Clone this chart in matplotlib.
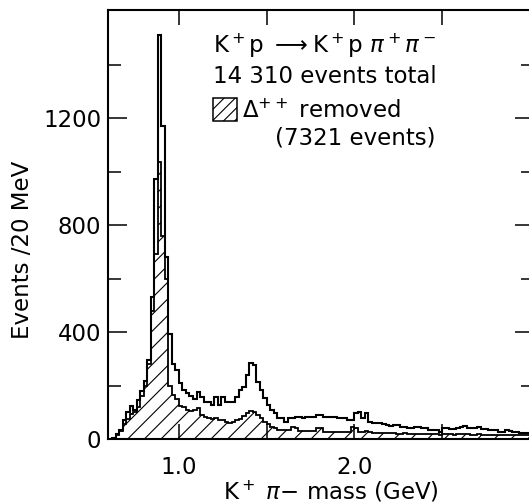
import numpy as np
import matplotlib
matplotlib.use("Agg")
import matplotlib.pyplot as plt
from matplotlib.patches import Rectangle

plt.rcParams['font.family'] = ['DejaVu Sans']
plt.rcParams['hatch.linewidth'] = 0.8

# 20 MeV bins, K+ pi- mass (GeV)
bin_lo = 0.62
bin_w = 0.02

# all events (14 310)
total = [
    5, 17, 34, 71, 100, 124, 108, 146, 180, 217,         # 0.62-0.80
    295, 532, 974, 1511, 1170, 681, 392, 280, 258, 208,  # 0.82-1.00
    183, 171, 160, 150, 177, 158, 140, 140, 127, 158,    # 1.02-1.20
    127, 158, 140, 140, 140, 158, 183, 196, 239, 283,    # 1.22-1.40
    275, 214, 183, 152, 127, 108, 96, 77, 77, 65,        # 1.42-1.60
    77, 77, 83, 83, 77, 83, 83, 83, 90, 90,              # 1.62-1.80
    83, 83, 83, 83, 77, 77, 77, 71, 71, 96,              # 1.82-2.00
    102, 77, 96, 65, 59, 59, 59, 56, 52, 49,             # 2.02-2.20
    52, 52, 46, 46, 40, 40, 46, 46, 40, 40,              # 2.22-2.40
    34, 34, 34, 27, 40, 40, 37, 37, 40, 46,              # 2.42-2.60
    50, 40, 40, 40, 43, 36, 36, 34, 34, 34,              # 2.62-2.80
    27, 27, 34, 30, 27, 27, 24, 21, 21,                  # 2.82-2.98
]

# Delta++ removed (7321 events)
no_delta = [
    4, 15, 30, 55, 75, 95, 100, 120, 160, 200,           # 0.62-0.80
    280, 480, 690, 1036, 760, 600, 200, 165, 150, 125,   # 0.82-1.00
    118, 108, 104, 110, 115, 88, 83, 80, 75, 77,         # 1.02-1.20
    72, 71, 65, 60, 62, 71, 75, 85, 98, 104,             # 1.22-1.40
    100, 90, 80, 65, 55, 46, 40, 34, 34, 34,             # 1.42-1.60
    34, 46, 42, 31, 31, 31, 31, 31, 42, 40,              # 1.62-1.80
    27, 27, 27, 27, 27, 27, 27, 27, 46, 40,              # 1.82-2.00
    27, 27, 30, 25, 24, 24, 22, 22, 24, 22,              # 2.02-2.20
    22, 20, 20, 22, 20, 20, 18, 20, 18, 18,              # 2.22-2.40
    18, 17, 17, 16, 18, 17, 17, 16, 18, 20,              # 2.42-2.60
    18, 17, 16, 16, 18, 16, 15, 16, 15, 15,              # 2.62-2.80
    14, 15, 16, 15, 14, 15, 14, 14, 14,                  # 2.82-2.98
]

edges = bin_lo + bin_w * np.arange(len(total) + 1)

fig = plt.figure(figsize=(5.29, 5.04), dpi=100)
ax = fig.add_axes([0.2047, 0.129, 0.805, 0.851])

ax.stairs(no_delta, edges, fill=True, facecolor='white', edgecolor='black',
          hatch='//', linewidth=0)
ax.stairs(no_delta, edges, color='black', linewidth=1.3)
ax.stairs(total, edges, color='black', linewidth=1.5)

ax.set_xlim(0.597, 3.025)
ax.set_ylim(0, 1604)

ax.set_xticks([1.0, 1.5, 2.0, 2.5])
ax.set_xticklabels(['1.0', '', '2.0', ''])
ax.set_yticks([0, 400, 800, 1200])
ax.set_yticks([200, 600, 1000, 1400], minor=True)

fs = 16.5
ax.tick_params(axis='both', which='both', direction='in', top=True, right=True,
               width=1.1, labelsize=fs)
ax.tick_params(axis='y', which='major', length=14, pad=5)
ax.tick_params(axis='y', which='minor', length=9.5)
ax.tick_params(axis='x', which='major', length=11, pad=12)
for s in ax.spines.values():
    s.set_linewidth(1.5)

ax.set_xlabel(r"K$^+$ $\pi$$-$ mass (GeV)", fontsize=fs)
ax.xaxis.set_label_coords(0.523, -0.092)
ax.set_ylabel("Events /20 MeV", fontsize=fs)
ax.yaxis.set_label_coords(-0.175, 0.44)

# annotation block
ax.text(0.246, 0.918, r"K$^+$p $\longrightarrow$K$^+$p $\pi^+\pi^-$",
        transform=ax.transAxes, fontsize=fs, va='center', ha='left')
ax.text(0.246, 0.846, "14 310 events total",
        transform=ax.transAxes, fontsize=fs, va='center', ha='left')
ax.add_patch(Rectangle((0.246, 0.741), 0.056, 0.054, transform=ax.transAxes,
                       facecolor='white', edgecolor='black', hatch='///',
                       linewidth=1.1))
ax.text(0.314, 0.765, r"$\Delta^{++}$ removed",
        transform=ax.transAxes, fontsize=fs, va='center', ha='left')
ax.text(0.392, 0.702, "(7321 events)",
        transform=ax.transAxes, fontsize=fs, va='center', ha='left')

fig.savefig("out.png", dpi=100)
